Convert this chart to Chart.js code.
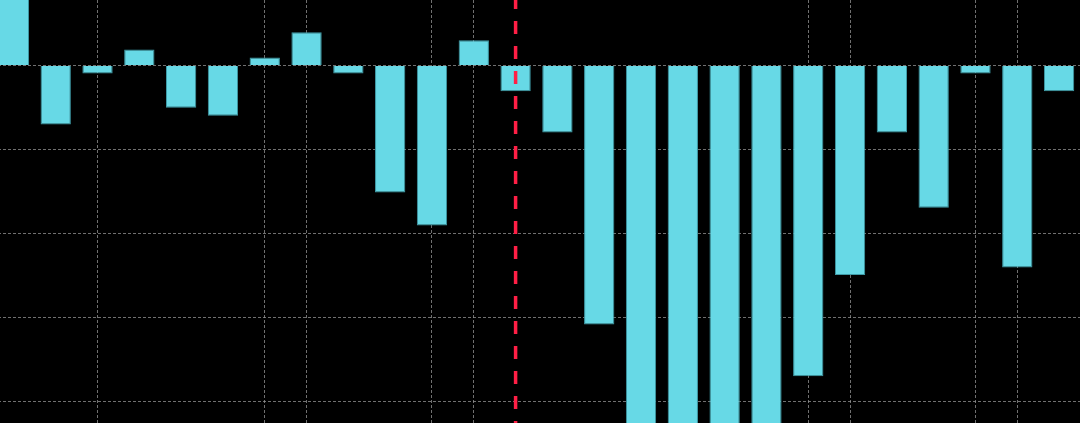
<!DOCTYPE html>
<html>
<head>
<meta charset="utf-8">
<script src="https://cdn.jsdelivr.net/npm/chart.js@4.4.1/dist/chart.umd.min.js"></script>
<style>
  html, body { margin: 0; padding: 0; background: #000; overflow: hidden; width: 1080px; height: 423px; }
  #wrap { position: absolute; left: -7px; top: 0; width: 1087px; height: 423px; }
</style>
</head>
<body>
<div id="wrap"><canvas id="c" width="1087" height="423"></canvas></div>
<script>
const categories = ['P1','P2','P3','P4','P5','P6','P7','P8','P9','P10','P11','P12','P13',
                    'P14','P15','P16','P17','P18','P19','P20','P21','P22','P23','P24','P25','P26'];
const values = [1.0, -0.70, -0.095, 0.19, -0.50, -0.595, 0.095, 0.396, -0.095, -1.51, -1.90, 0.30, -0.305,
                -0.797, -3.08, -4.6, -4.9, -5.0, -4.7, -3.695, -2.49, -0.797, -1.69, -0.095, -2.40, -0.305];
const gridCategories = [2, 6, 7, 10, 11, 19, 20, 23, 24];
const markerCategory = 12;
const yRange = [-4.25, 0.78];

const gridColor = 'rgba(150,150,150,0.75)';

const markerPlugin = {
  id: 'marker',
  afterDatasetsDraw(chart) {
    const { ctx, chartArea, scales } = chart;
    const x = scales.x.getPixelForValue(markerCategory);
    ctx.save();
    ctx.strokeStyle = '#ff1f45';
    ctx.lineWidth = 3.5;
    ctx.setLineDash([13, 12]);
    ctx.lineDashOffset = 4;
    ctx.beginPath();
    ctx.moveTo(x, chartArea.top);
    ctx.lineTo(x, chartArea.bottom);
    ctx.stroke();
    ctx.restore();
  }
};

new Chart(document.getElementById('c'), {
  type: 'bar',
  data: {
    labels: categories,
    datasets: [{
      data: values,
      backgroundColor: '#67d9e6',
      borderColor: '#3e9aa6',
      borderWidth: 1,
      barPercentage: 0.725,
      categoryPercentage: 1.0
    }]
  },
  options: {
    responsive: false,
    animation: false,
    devicePixelRatio: 1,
    layout: { padding: 0 },
    plugins: { legend: { display: false }, tooltip: { enabled: false } },
    scales: {
      x: {
        offset: true,
        grid: {
          offset: false,
          drawTicks: false,
          lineWidth: 1,
          color: (c) => gridCategories.includes(c.index) ? gridColor : 'rgba(0,0,0,0)'
        },
        border: { display: false, dash: [3, 2] },
        ticks: { display: false, autoSkip: false }
      },
      y: {
        min: yRange[0],
        max: yRange[1],
        afterBuildTicks: (scale) => {
          scale.ticks = scale.ticks.filter(t => Math.abs(t.value - Math.round(t.value)) < 1e-9);
        },
        ticks: { display: false, stepSize: 1 },
        grid: { drawTicks: false, color: gridColor, lineWidth: 1 },
        border: { display: false, dash: [3, 2] }
      }
    }
  },
  plugins: [markerPlugin]
});
</script>
</body>
</html>
